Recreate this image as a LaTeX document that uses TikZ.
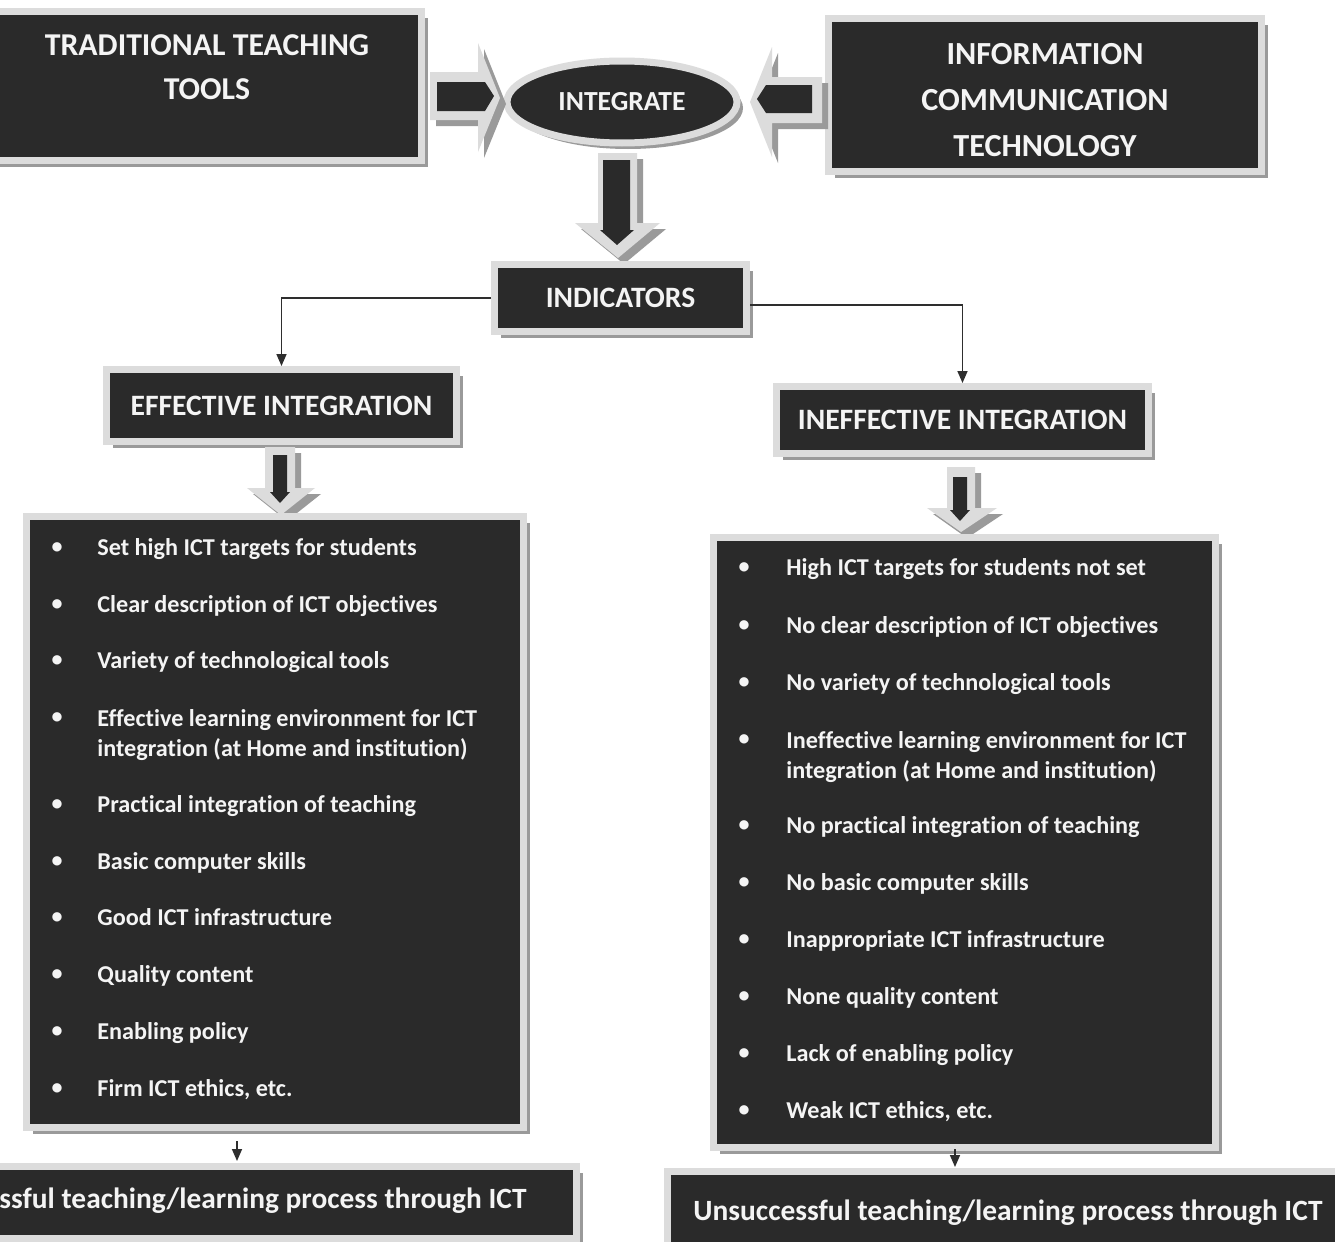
\documentclass[tikz,border=0pt]{standalone}
\usepackage{fontspec}
\setmainfont{Carlito}[Ligatures={NoCommon}]
\usetikzlibrary{shapes.geometric,arrows.meta,shadows}
\definecolor{boxdark}{HTML}{2A2A2A}
\definecolor{framegray}{HTML}{DCDCDC}
\definecolor{shadowgray}{HTML}{9A9A9A}
\definecolor{txt}{HTML}{F4F4F4}
\definecolor{connc}{HTML}{2E2E2E}
\begin{document}
\begin{tikzpicture}[x=0.5pt,y=-0.5pt,
  shad/.style={drop shadow={shadow xshift=3pt,shadow yshift=-3pt,fill=shadowgray,opacity=1}},
  panel/.style={rectangle,fill=boxdark,draw=framegray,line width=3.5pt,inner sep=0pt,
    text=txt,font=\bfseries,align=center,shad},
  oval/.style={ellipse,fill=boxdark,draw=framegray,line width=3.5pt,inner sep=0pt,
    text=txt,font=\bfseries\fontsize{13.8pt}{15pt}\selectfont,shad},
  head/.style={font=\bfseries\fontsize{14.8pt}{17pt}\selectfont},
  bigtxt/.style={text=txt,align=center,inner sep=0pt},
  blocklight/.style={fill=framegray,shad},
  blockdark/.style={fill=boxdark},
  connline/.style={draw=connc,line width=0.8pt,-{Triangle[width=5pt,length=6pt]}},
  item/.style={anchor=west,text=txt,font=\bfseries\fontsize{12.1pt}{15pt}\selectfont,
    inner sep=0pt,text height=0.72em,text depth=0.22em,yshift=-1.2pt},
  itemtwo/.style={anchor=west,text=txt,font=\bfseries\fontsize{12.1pt}{15pt}\selectfont,
    inner sep=0pt,align=left,yshift=-1.2pt},
  bul/.style={text=txt,font=\bfseries\fontsize{11pt}{13pt}\selectfont,inner sep=0pt}
]
\useasboundingbox (0,0) rectangle (1335,1242);
\fill[white] (0,0) rectangle (1335,1242);

% top boxes
\node[panel,minimum width=217.5pt,minimum height=74.5pt] (trad) at (204,86) {};
\node[bigtxt,font=\bfseries\fontsize{15.9pt}{22pt}\selectfont]
  (tradtxt) at (207,67) {TRADITIONAL TEACHING\\TOOLS};
\node[panel,minimum width=216.5pt,minimum height=76.5pt] (ict) at (1045,95) {};
\node[bigtxt,font=\bfseries\fontsize{16.1pt}{22.8pt}\selectfont]
  (icttxt) at (1045,100) {INFORMATION\\COMMUNICATION\\TECHNOLOGY};
\node[oval,minimum width=115pt,minimum height=41pt] (integ) at (622,102) {INTEGRATE};

% block arrows into INTEGRATE
\fill[blocklight] (430,72) -- (478,72) -- (478,43) -- (500,98) -- (478,152) -- (478,120) -- (430,120) -- cycle;
\fill[blockdark] (437,82) -- (485,82) -- (494,96) -- (485,111) -- (437,111) -- cycle;
\fill[blocklight] (822,77) -- (772,77) -- (772,47) -- (750,102) -- (772,157) -- (772,123) -- (822,123) -- cycle;
\fill[blockdark] (812,85) -- (766,85) -- (757,99) -- (766,113) -- (812,113) -- cycle;

% down arrow to INDICATORS
\fill[blocklight] (598,153) -- (637,153) -- (637,223) -- (660,223) -- (618,258) -- (575,223) -- (598,223) -- cycle;
\fill[blockdark] (603,160) -- (630,160) -- (630,230) -- (634,230) -- (617,245) -- (600,230) -- (603,230) -- cycle;

\node[panel,head,minimum width=126pt,minimum height=33.5pt] (ind) at (620.5,298) {INDICATORS};
\node[panel,head,minimum width=175pt,minimum height=36pt] (eff) at (281.5,405.5) {EFFECTIVE INTEGRATION};
\node[panel,head,minimum width=186pt,minimum height=33.5pt] (inef) at (962.5,420) {INEFFECTIVE INTEGRATION};

\draw[connline] (ind.west) -| (eff.north);
\draw[connline] ([yshift=-3.5pt]ind.east) -| (inef.north);

% down block arrows to lists
\fill[blocklight] (265,447) -- (295,447) -- (295,488) -- (315,488) -- (281,515) -- (247,488) -- (265,488) -- cycle;
\fill[blockdark] (273,455) -- (287,455) -- (287,492) -- (290,492) -- (280,503) -- (270,492) -- (273,492) -- cycle;
\fill[blocklight] (947,467) -- (975,467) -- (975,508) -- (997,508) -- (961,532) -- (927,508) -- (947,508) -- cycle;
\fill[blockdark] (953,477) -- (967,477) -- (967,510) -- (970,510) -- (960,521) -- (950,510) -- (953,510) -- cycle;

% list panels
\node[panel,minimum width=248.5pt,minimum height=305.5pt] (leftlist) at (275,822) {};
\node[panel,minimum width=251pt,minimum height=305pt] (rightlist) at (964.5,842.5) {};

% left list
\foreach \yy/\tx [count=\i] in {548/Set high ICT targets for students,
  605/Clear description of ICT objectives,
  661/Variety of technological tools,
  805/Practical integration of teaching,
  862/Basic computer skills,
  918/Good ICT infrastructure,
  975/Quality content,
  1032/Enabling policy,
  1089/{Firm ICT ethics, etc.}}{
  \node[bul] (lb\i) at (57,\yy) {•};
  \node[item] (li\i) at (97,\yy) {\tx};
}
\node[bul] (lb10) at (57,718) {•};
\node[itemtwo] (li10) at (97,733) {Effective learning environment for ICT\\integration (at Home and institution)};

% right list
\foreach \yy/\tx [count=\i] in {568/High ICT targets for students not set,
  626/No clear description of ICT objectives,
  683/No variety of technological tools,
  826/No practical integration of teaching,
  883/No basic computer skills,
  940/Inappropriate ICT infrastructure,
  997/None quality content,
  1054/Lack of enabling policy,
  1111/{Weak ICT ethics, etc.}}{
  \node[bul] (rb\i) at (744,\yy) {•};
  \node[item] (ri\i) at (786,\yy) {\tx};
}
\node[bul] (rb10) at (744,740) {•};
\node[itemtwo] (ri10) at (786,754.5) {Ineffective learning environment for ICT\\integration (at Home and institution)};

% bottom panels
\node[panel,minimum width=295pt,minimum height=36pt] (lbot) at (281.5,1202.5) {};
\node[bigtxt,font=\bfseries\fontsize{14.7pt}{17pt}\selectfont,anchor=east]
  (lbottxt) at (527,1201) {Successful teaching/learning process through ICT};
\node[panel,minimum width=340.5pt,minimum height=41pt,
  font=\bfseries\fontsize{14.7pt}{17pt}\selectfont] (rbot) at (1008,1212.5)
  {Unsuccessful teaching/learning process through ICT};

\draw[connline,shorten <=5pt,shorten >=1pt] ([xshift=-19pt]leftlist.south) -- ([xshift=-19pt]leftlist.south |- lbot.north);
\draw[connline] ([xshift=-4.75pt,yshift=1pt]rightlist.south) -- ([xshift=-4.75pt,yshift=0.5pt]rightlist.south |- rbot.north);
\end{tikzpicture}
\end{document}
